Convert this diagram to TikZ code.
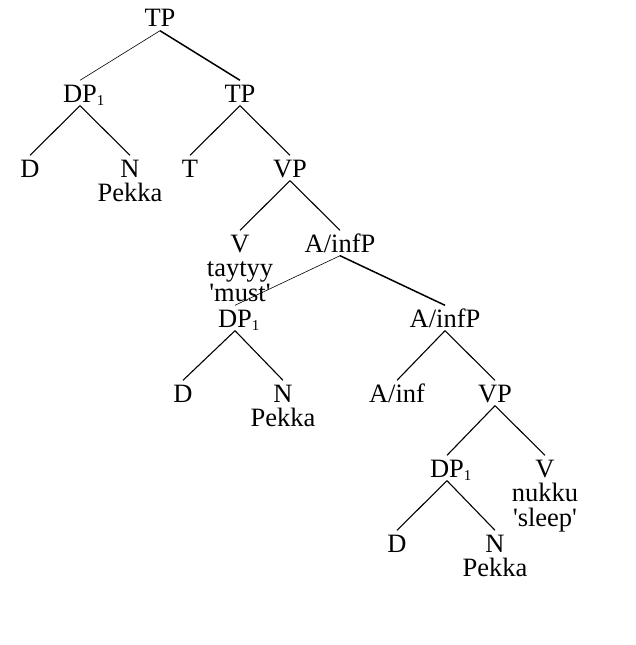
\documentclass[tikz,border=0pt]{standalone}
\usepackage{fontspec}
\setmainfont{Liberation Serif}
% small lowered index that does not widen the label
\newcommand\idx[1]{\rlap{\raisebox{-3pt}{\fontsize{15}{15}\selectfont #1}}}
\newcommand\q{\textquotesingle}
\begin{document}
\begin{tikzpicture}[x=1pt,y=-1pt,
  cat/.style={anchor=base, inner xsep=0pt, inner ysep=3.5pt,
    text height=18pt, text depth=0pt, font=\fontsize{26.5}{26.5}\selectfont},
  word/.style={anchor=base, inner sep=0pt, font=\fontsize{26.5}{26.5}\selectfont},
  edge/.style={line width=1.1pt},
  heavy/.style={line width=1.5pt},
  light/.style={line width=0.6pt}]
\useasboundingbox (0,0) rectangle (636,645);

% categories
\node[cat] (tp)   at (160,27)  {TP};
\node[cat] (dpa)  at (80,102)  {DP\idx1};
\node[cat] (tpb)  at (240,102) {TP};
\node[cat] (da)   at (30,177)  {D};
\node[cat] (na)   at (130,177) {N};
\node[cat] (t)    at (190,177) {T};
\node[cat] (vpa)  at (290,177) {VP};
\node[cat] (v)    at (240,252) {V};
\node[cat] (aip)  at (340,252) {A/infP};
\node[cat] (dpb)  at (235,327) {DP\idx1};
\node[cat] (aipb) at (445,327) {A/infP};
\node[cat] (db)   at (183,402) {D};
\node[cat] (nb)   at (283,402) {N};
\node[cat] (ai)   at (397,402) {A/inf};
\node[cat] (vpb)  at (495,402) {VP};
\node[cat] (dpc)  at (447,477) {DP\idx1};
\node[cat] (vb)   at (545,477) {V};
\node[cat] (dc)   at (397,552) {D};
\node[cat] (nc)   at (495,552) {N};

% lexical material
\node[word] (pa)    at (130,201) {Pekka};
\node[word] (tay)   at (240,276) {taytyy};
\node[word] (must)  at (240,301) {\q must\q};
\node[word] (pb)    at (283,426) {Pekka};
\node[word] (nuk)   at (545,501) {nukku};
\node[word] (sleep) at (545,526) {\q sleep\q};
\node[word] (pc)    at (495,576) {Pekka};

% branches
\draw[light] (tp.south) -- (dpa.north);
\draw[heavy] (tp.south) -- (tpb.north);
\draw[edge] (dpa.south) -- (da.north);
\draw[edge] (dpa.south) -- (na.north);
\draw[edge] (tpb.south) -- (t.north);
\draw[edge] (tpb.south) -- (vpa.north);
\draw[edge] (vpa.south) -- (v.north);
\draw[edge] (vpa.south) -- (aip.north);
\draw[light] (aip.south) -- (dpb.north);
\draw[heavy] (aip.south) -- (aipb.north);
\draw[edge] (dpb.south) -- (db.north);
\draw[edge] (dpb.south) -- (nb.north);
\draw[edge] (aipb.south) -- (ai.north);
\draw[edge] (aipb.south) -- (vpb.north);
\draw[edge] (vpb.south) -- (dpc.north);
\draw[edge] (vpb.south) -- (vb.north);
\draw[edge] (dpc.south) -- (dc.north);
\draw[edge] (dpc.south) -- (nc.north);
\end{tikzpicture}
\end{document}
